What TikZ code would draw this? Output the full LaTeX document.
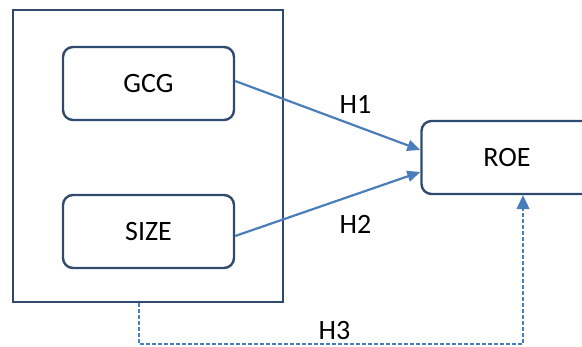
\documentclass[tikz,border=0pt]{standalone}
\usepackage{fontspec}
\setmainfont{Carlito}
\usetikzlibrary{arrows.meta}
\definecolor{boxline}{HTML}{2F4A6D}
\definecolor{arrowblue}{HTML}{4A7EBB}
\tikzset{
  varbox/.style={draw=boxline, line width=2.4pt, rounded corners=10pt, minimum width=171pt, minimum height=73pt, inner sep=0pt, font=\fontsize{28}{33}\selectfont},
  groupbox/.style={draw=boxline, line width=2.4pt, minimum width=270pt, minimum height=292pt, inner sep=0pt},
  hyparrow/.style={draw=arrowblue, line width=2.2pt, -{Triangle[length=13pt,width=11pt]}},
  dasharrow/.style={draw=arrowblue, line width=1.2pt, dash pattern=on 3.5pt off 2.5pt, -{Triangle[length=14pt,width=13pt]}},
  hlabel/.style={inner sep=0pt, font=\fontsize{28}{33}\selectfont}
}
\begin{document}
\begin{tikzpicture}[x=1pt,y=-1pt]
\useasboundingbox (0,0) rectangle (582,347);
\clip (0,0) rectangle (582,347);
\node[groupbox] (group) at (148,156) {};
\node[varbox] (gcg) at (148.5,83.5) {GCG};
\node[varbox] (size) at (148.5,231.5) {SIZE};
\node[varbox] (roe) at (507,157.5) {ROE};
\draw[hyparrow] ([yshift=2.5pt]gcg.east) -- ([yshift=7.5pt]roe.west);
\draw[hyparrow] ([yshift=-4.5pt]size.east) -- ([yshift=-14.5pt]roe.west);
\coordinate (c1) at (139,344);
\coordinate (c2) at (523,344);
\draw[dasharrow] (group.south -| c1) -- (c1) -- (c2) -- (c2 |- roe.south);
\node[hlabel] (h3) at (334.5,330.5) {H3};
\node[hlabel] (h1) at (355.5,104.5) {H1};
\node[hlabel] (h2) at (355.5,224.5) {H2};
\end{tikzpicture}
\end{document}
